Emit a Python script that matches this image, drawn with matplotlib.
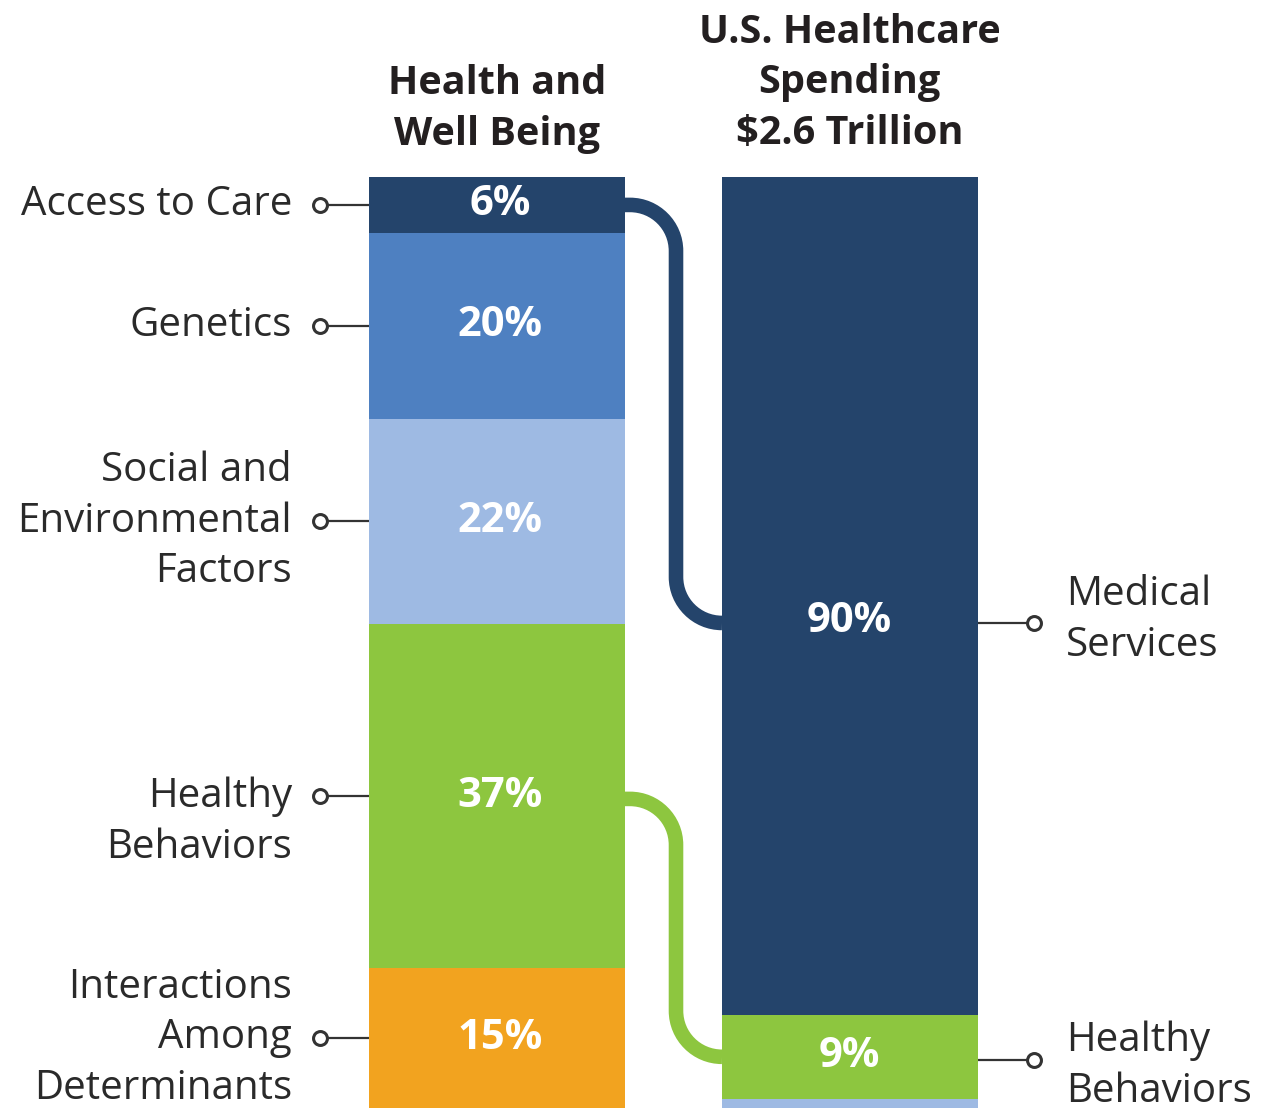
import matplotlib
matplotlib.use("Agg")
import matplotlib.pyplot as plt
from matplotlib.path import Path
from matplotlib.patches import PathPatch
import numpy as np

# ---------------- data ----------------
left_categories = ["Access to Care", "Genetics", "Social and\nEnvironmental\nFactors",
                   "Healthy\nBehaviors", "Interactions\nAmong\nDeterminants"]
left_values = [6, 20, 22, 37, 15]
left_colors = ["#24446B", "#4E80C1", "#9EBAE3", "#8DC63F", "#F2A31F"]

right_categories = ["Medical\nServices", "Healthy\nBehaviors", ""]
right_values = [90, 9, 1]
right_colors = ["#24446B", "#8DC63F", "#9EBAE3"]

left_title = "Health and\nWell Being"
right_title = "U.S. Healthcare\nSpending\n$2.6 Trillion"

# ---------------- layout ----------------
W, H = 1276, 1110
fig = plt.figure(figsize=(W / 100, H / 100), dpi=100)
ax = fig.add_axes([0, 0, 1, 1])
PX_PER_PCT = (1108 - 177) / 100.0
ax.set_xlim(0, W)
ax.set_ylim(-2 / PX_PER_PCT, 100 + 177 / PX_PER_PCT)
ax.axis("off")

FONT = "Open Sans"
TXT = "#2A2A2A"

lx, rx, bw = 497, 849.5, 256

def stack(x, values, colors):
    bottoms = 100 - np.cumsum(values)
    ax.bar([x] * len(values), values, bottom=bottoms, width=bw, color=colors,
           edgecolor="none", zorder=2)
    return bottoms + np.array(values) / 2.0

left_centers = stack(lx, left_values, left_colors)
right_centers = stack(rx, right_values, right_colors)

# percentage labels
for c, v in zip(left_centers, left_values):
    ax.text(lx + 3, c, f"{v}%", ha="center", va="center", color="white",
            fontsize=30, fontweight="bold", family=FONT, zorder=4)

right_label_y = [52.3, right_centers[1]]
for yv, v in zip(right_label_y, right_values[:2]):
    ax.text(rx, yv, f"{v}%", ha="center", va="center", color="white",
            fontsize=30, fontweight="bold", family=FONT, zorder=4)

# titles
ax.text(lx, 100 + 68 / PX_PER_PCT, left_title, ha="center", va="center",
        fontsize=28.5, fontweight="bold", family=FONT, color="#231F20",
        linespacing=1.38)
ax.text(rx, 100 + 94 / PX_PER_PCT, right_title, ha="center", va="center",
        fontsize=28.5, fontweight="bold", family=FONT, color="#231F20",
        linespacing=1.38)

# left category labels with circle markers
left_text_offsets = [0, 0, 0, -26 / PX_PER_PCT, 0]
for cat, c, off in zip(left_categories, left_centers, left_text_offsets):
    ax.plot([320, 369], [c, c], color="#333333", lw=1.6, zorder=3,
            solid_capstyle="butt")
    ax.plot(320, c, marker="o", ms=10, mfc="white", mec="#333333", mew=2.2,
            zorder=4)
    ax.text(292, c + off, cat, ha="right", va="center", fontsize=29,
            family=FONT, color=TXT, linespacing=1.33)

# right category labels
right_marker_y = [52.1, 5.2]
right_text_y = [52.4, 4.5]
for cat, my, ty in zip(right_categories[:2], right_marker_y, right_text_y):
    ax.plot([977.5, 1034], [my, my], color="#333333", lw=1.6, zorder=3,
            solid_capstyle="butt")
    ax.plot(1034, my, marker="o", ms=10, mfc="white", mec="#333333", mew=2.2,
            zorder=4)
    ax.text(1066, ty, cat, ha="left", va="center", fontsize=29,
            family=FONT, color=TXT, linespacing=1.33)

# connectors (rounded elbow paths)
def connector(y0, y1, color):
    x0, xm, x1 = 625, 676, 722
    r = 46.0
    ry = r / PX_PER_PCT
    k = 0.5523
    verts = [
        (x0, y0), (xm - r, y0),
        (xm - r + k * r, y0), (xm, y0 - ry + k * ry), (xm, y0 - ry),
        (xm, y1 + ry),
        (xm, y1 + ry - k * ry), (xm + r - k * r, y1), (xm + r, y1),
        (x1, y1),
    ]
    codes = [Path.MOVETO, Path.LINETO,
             Path.CURVE4, Path.CURVE4, Path.CURVE4,
             Path.LINETO,
             Path.CURVE4, Path.CURVE4, Path.CURVE4,
             Path.LINETO]
    ax.add_patch(PathPatch(Path(verts, codes), facecolor="none", edgecolor=color,
                           lw=10.5, capstyle="butt", joinstyle="round", zorder=1))

connector(left_centers[0], 52.1, left_colors[0])
connector(left_centers[3] - 0.3, right_centers[1], left_colors[3])

fig.savefig("out.png", dpi=100, facecolor="white")
